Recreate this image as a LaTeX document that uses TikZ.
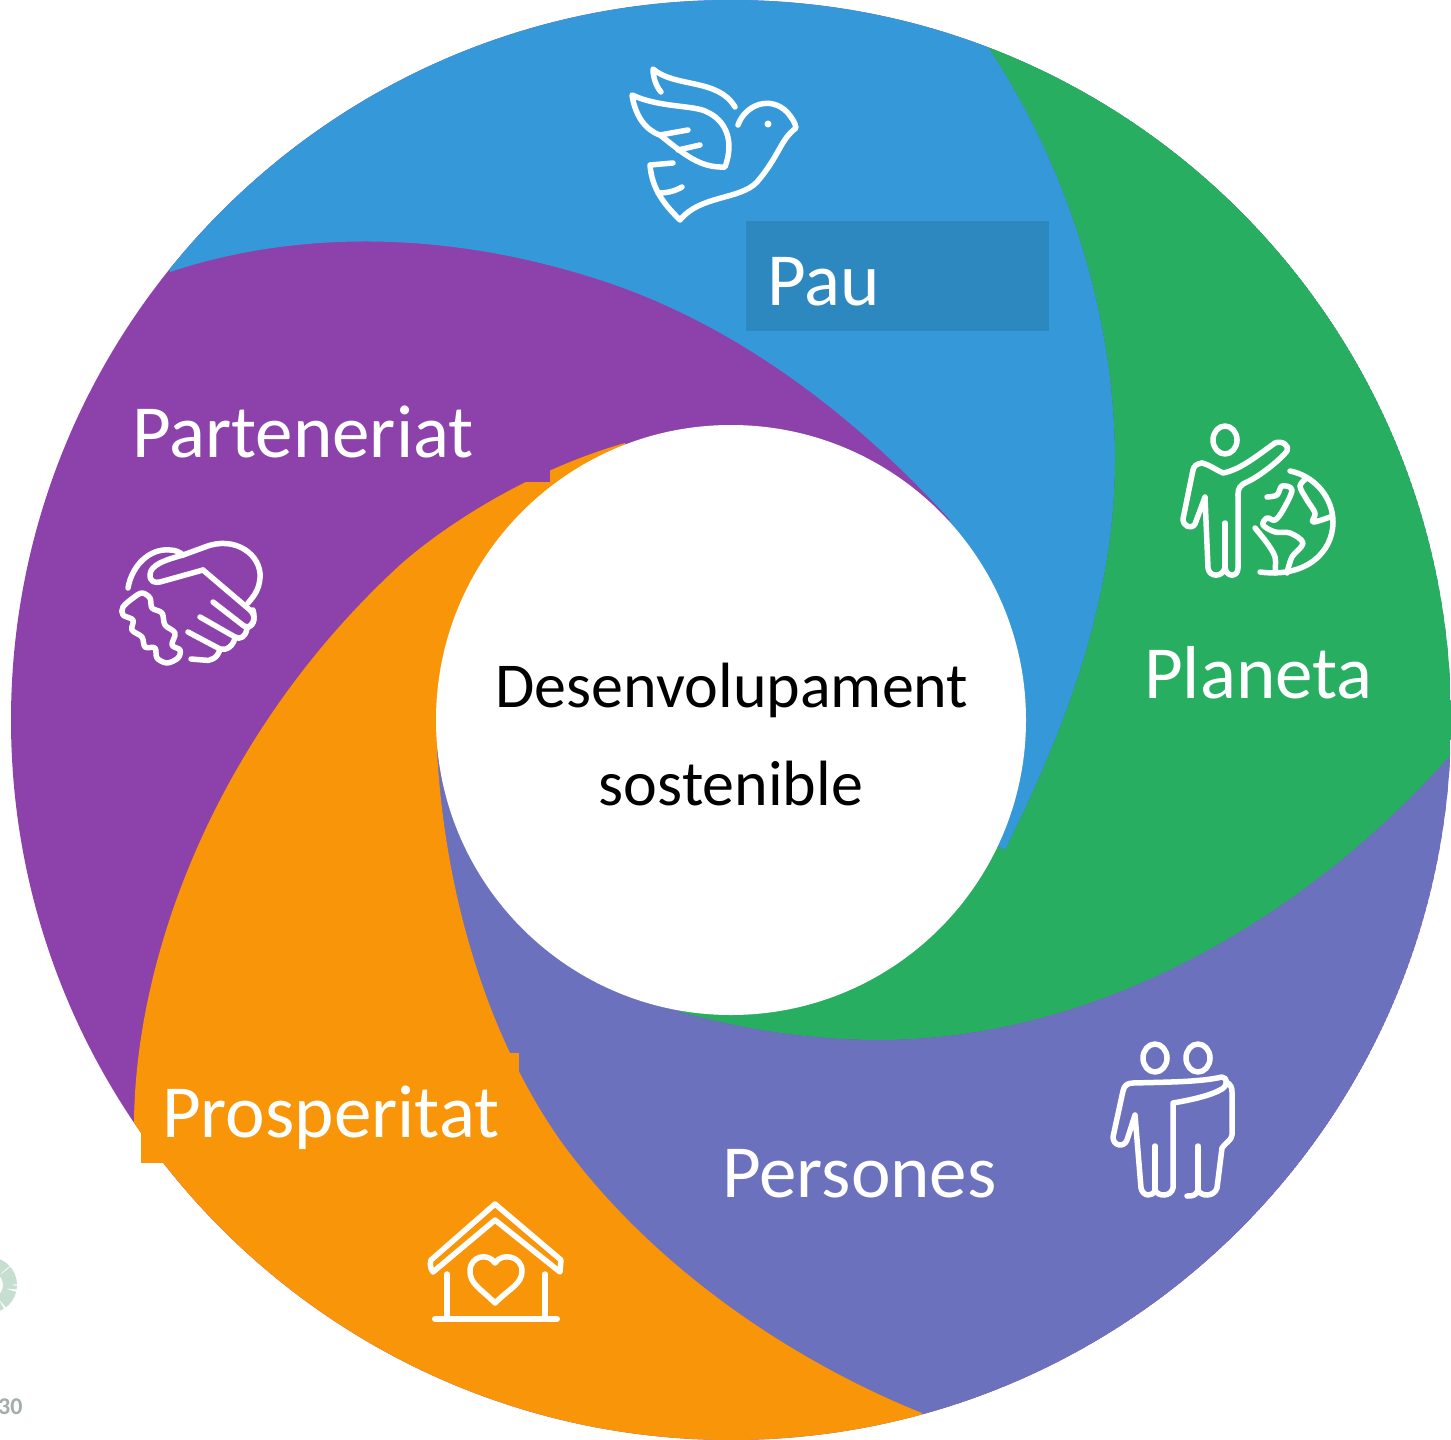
\documentclass[tikz,border=0pt]{standalone}
\usepackage{fontspec}
\setmainfont{Carlito}
\definecolor{cblue}{HTML}{3598D9}
\definecolor{cbluebox}{HTML}{2E88C0}
\definecolor{cgreen}{HTML}{28AE61}
\definecolor{cpurple}{HTML}{8D42AB}
\definecolor{corange}{HTML}{F89508}
\definecolor{cperi}{HTML}{6C71BE}
\definecolor{clogo}{HTML}{C6DFD1}
\definecolor{cgrey}{HTML}{A3ADA9}
\tikzset{
  icon/.style={draw=white,line width=5.5pt,line cap=round,line join=round},
  smth/.style={smooth,tension=0.55},
  lab/.style={anchor=base west,inner sep=0pt,text=white,font=\fontsize{75}{75}\selectfont},
  ctr/.style={anchor=base,inner sep=0pt,text=black,font=\fontsize{64}{64}\selectfont},
}
\begin{document}
\begin{tikzpicture}[x=1pt,y=-1pt]
\useasboundingbox (0,0) rectangle (1451,1440);
\fill[white] (0,0) rectangle (1451,1440);
% logo remains at the left edge
\begin{scope}
\clip (0,0) rectangle (1451,1440);
\draw[clogo,line width=14pt,dash pattern=on 15pt off 1pt] (-11,1285) circle[radius=21pt];
\end{scope}
\node[anchor=base west,inner sep=0pt,text=cgrey,font=\fontsize{24}{24}\bfseries\selectfont] (logotext) at (-2,1414) {30};
% swirl
\begin{scope}
\clip (731,720) circle[radius=720pt];
\fill[cpurple] (731,720) circle[radius=720pt];
\fill[cblue] (170,272) .. controls (290,232) and (440,228) .. (600,280) .. controls (730,322) and (850,410) .. (950,520)
  -- (731,720) -- (1005,850) .. controls (1065,730) and (1115,600) .. (1115,460) .. controls (1115,320) and (1070,170) .. (988,47)
  -- (1000,-50) -- (100,-50) -- cycle;
\fill[cgreen] (988,47) .. controls (1070,170) and (1115,320) .. (1115,460) .. controls (1115,600) and (1065,730) .. (1005,850)
  -- (731,720) -- (680,1012) .. controls (745,1030) and (810,1040) .. (880,1040) .. controls (1090,1040) and (1300,925) .. (1451,755)
  -- (1600,755) -- (1600,-50) -- (1000,-50) -- cycle;
\fill[cperi] (1451,755) .. controls (1300,925) and (1090,1040) .. (880,1040) .. controls (810,1040) and (745,1030) .. (680,1012)
  -- (731,720) -- (437,750) .. controls (445,900) and (490,1040) .. (560,1140) .. controls (650,1265) and (790,1360) .. (922,1413)
  -- (1000,1600) -- (1600,1600) -- (1600,755) -- cycle;
\fill[corange] (134,1130) .. controls (133,960) and (215,735) .. (400,565) .. controls (445,525) and (530,470) .. (625,443)
  -- (731,720) -- (437,750) .. controls (445,900) and (490,1040) .. (560,1140) .. controls (650,1265) and (790,1360) .. (922,1413)
  -- (900,1600) -- (-100,1600) -- cycle;
\fill[cpurple] (100,375) rectangle (550,482);
\end{scope}
% text boxes that stick out of the swirl
\fill[corange] (141,1053) rectangle (519,1163);
\fill[cbluebox] (746,221) rectangle (1049,331);
% centre
\fill[white] (731,720) circle[radius=295pt];
% labels
\node[lab] (pau) at (767,305) {Pau};
\node[lab] (planeta) at (1144,698) {Planeta};
\node[lab] (persones) at (722,1197) {Persones};
\node[lab] (prosperitat) at (162,1137) {Prosperitat};
\node[lab] (parteneriat) at (132,457) {Parteneriat};
\node[ctr] (des) at (732,707) {Desenvolupament};
\node[ctr] (sos) at (731,805) {sostenible};
% dove
\draw[icon] (661,92) .. controls (655,85) and (653,75) .. (653,69) .. controls (675,88) and (718,78) .. (735,107);
\draw[icon] (632,95) .. controls (660,108) and (695,105) .. (707,112) .. controls (725,120) and (735,140) .. (725,167)
  .. controls (700,168) and (685,155) .. (660,135) .. controls (645,130) and (635,115) .. (632,95) -- cycle;
\draw[icon] (660,135) -- (688,130);
\draw[icon] (678,150) -- (700,145);
\draw[icon] (738,125) .. controls (745,105) and (770,95) .. (787,112) .. controls (792,118) and (795,122) .. (796,128)
  .. controls (780,140) and (780,155) .. (757,182) .. controls (740,200) and (700,195) .. (680,220)
  .. controls (665,205) and (652,190) .. (650,165) -- (673,163);
\draw[icon] (658,193) .. controls (668,193) and (675,191) .. (682,187);
\fill[white] (768,124) circle[radius=3.5pt];
% person and globe
\draw[icon] (1225,440) ellipse[x radius=12pt,y radius=14pt];
\draw[icon] (1202,463) .. controls (1210,465) and (1216,470) .. (1223,473) .. controls (1240,470) and (1258,455) .. (1275,443)
  .. controls (1282,440) and (1290,446) .. (1287,451) .. controls (1280,460) and (1260,476) .. (1247,482) .. controls (1240,485) and (1238,488) .. (1238,495);
\draw[icon] (1202,463) .. controls (1196,464) and (1194,466) .. (1193,470) -- (1183,519) .. controls (1183,526) and (1191,530) .. (1195,524) -- (1205,497) -- (1208,568)
  .. controls (1209,577) and (1222,578) .. (1225,568) .. controls (1227,578) and (1238,577) .. (1238,568) -- (1238,495);
\draw[icon] (1225,523) -- (1225,568);
\draw[icon] (1290,471) .. controls (1315,476) and (1333,498) .. (1333,522) .. controls (1333,553) and (1305,578) .. (1260,572);
\draw[icon] plot[smth] coordinates {(1267,497) (1277,495) (1282,486) (1292,490) (1283,510) (1275,520) (1267,518) (1263,525) (1275,532) (1290,533) (1303,543) (1292,557) (1287,573)};
\draw[icon] plot[smth] coordinates {(1255,528) (1267,543) (1275,557) (1275,573)};
\draw[icon] plot[smth] coordinates {(1307,478) (1300,486) (1307,500) (1315,513) (1313,522) (1330,517)};
% two people
\draw[icon] (1155,1058) ellipse[x radius=12pt,y radius=14pt];
\draw[icon] (1198,1058) ellipse[x radius=12pt,y radius=14pt];
\draw[icon] (1222,1077) .. controls (1200,1082) and (1170,1082) .. (1133,1083) .. controls (1127,1083) and (1124,1086) .. (1123,1091) -- (1113,1137)
  .. controls (1113,1146) and (1124,1148) .. (1127,1140) -- (1135,1115) -- (1141,1188)
  .. controls (1143,1197) and (1153,1197) .. (1155,1190) .. controls (1158,1197) and (1171,1197) .. (1173,1188) -- (1173,1103)
  .. controls (1190,1100) and (1210,1096) .. (1222,1089) .. controls (1228,1085) and (1228,1078) .. (1222,1077);
\draw[icon] (1226,1082) .. controls (1231,1084) and (1232,1088) .. (1232,1092) -- (1232,1135) .. controls (1232,1140) and (1224,1144) .. (1222,1148) -- (1217,1188)
  .. controls (1214,1197) and (1201,1197) .. (1198,1190) .. controls (1196,1196) and (1192,1196) .. (1187,1196);
\draw[icon] (1155,1146) -- (1155,1190);
\draw[icon] (1198,1146) -- (1198,1190);
% house
\draw[icon] (431,1260) -- (495,1204) -- (561,1260) -- (560,1272) -- (495,1220) -- (433,1272) .. controls (430,1268) and (430,1264) .. (431,1260) -- cycle;
\draw[icon] (447,1274) -- (447,1318);
\draw[icon] (545,1274) -- (545,1318);
\draw[icon,line width=6pt] (435,1319) -- (557,1319);
\draw[icon] (495,1303) .. controls (480,1288) and (470,1284) .. (470,1271) .. controls (470,1256) and (488,1252) .. (495,1263) .. controls (502,1252) and (522,1256) .. (522,1271) .. controls (522,1284) and (510,1288) .. (495,1303) -- cycle;
% handshake
\draw[icon] (128,588) .. controls (132,565) and (150,548) .. (170,550) .. controls (175,550) and (180,552) .. (183,555);
\draw[icon] (183,555) .. controls (165,560) and (150,565) .. (150,575) .. controls (150,582) and (155,583) .. (160,582) -- (203,570);
\draw[icon] (203,570) -- (250,610) .. controls (258,617) and (253,630) .. (244,626) -- (213,602);
\draw[icon] (183,555) -- (205,547) .. controls (235,535) and (262,555) .. (260,578) .. controls (259,590) and (254,596) .. (248,603);
\draw[icon] (253,610) .. controls (256,620) and (252,626) .. (247,628) .. controls (246,637) and (240,640) .. (235,637) -- (200,617);
\draw[icon] (235,637) .. controls (234,646) and (226,651) .. (220,649) -- (188,632);
\draw[icon] (220,649) .. controls (218,658) and (210,662) .. (203,660) -- (191,659);
\draw[icon] plot[smooth cycle,tension=0.55] coordinates {(142,593) (150,598) (152,608) (162,613) (165,625) (175,633) (172,645) (180,650) (178,658) (167,663) (157,658) (155,648) (145,647) (142,637) (132,630) (133,620) (123,615) (123,607) (133,598)};
\end{tikzpicture}
\end{document}
